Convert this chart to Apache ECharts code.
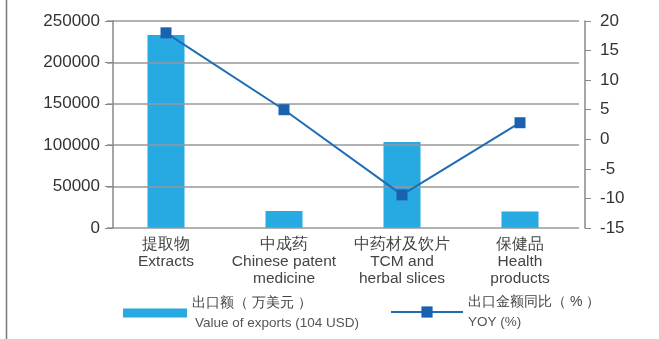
<!DOCTYPE html>
<html><head><meta charset="utf-8">
<script src="https://cdn.jsdelivr.net/npm/echarts@6/dist/echarts.min.js"></script>
<style>html,body{margin:0;padding:0;background:#fff}#c{width:659px;height:339px}</style>
</head><body><div id="c"></div>
<script>
const categoriesZh = ['提取物', '中成药', '中药材及饮片', '保健品'];
const categoriesEn = ['Extracts', 'Chinese patent\nmedicine', 'TCM and\nherbal slices', 'Health\nproducts'];
const exportValues = [233000, 20500, 104000, 20000];
const yoyValues = [18, 5, -9.4, 2.8];
const leftTicks = [0, 50000, 100000, 150000, 200000, 250000];
const rightTicks = [-15, -10, -5, 0, 5, 10, 15, 20];

const chart = echarts.init(document.getElementById('c'));
const font = 'Liberation Sans, Arial, sans-serif';
const richA = {fontSize: 14, color: '#444', fontFamily: font, lineHeight: 20};
const richB = {fontSize: 13.5, color: '#555', fontFamily: font, lineHeight: 20};
chart.setOption({
  animation: false,
  textStyle: {fontFamily: font},
  grid: {left: 107, right: 80, top: 21, bottom: 111},
  graphic: [{type: 'line', shape: {x1: 6.5, y1: 0, x2: 6.5, y2: 339}, style: {stroke: '#777', lineWidth: 1.5}}],
  legend: [
    {data: [{name: '出口额（万美元）', icon: 'rect'}], left: 118, top: 291, itemWidth: 64, itemHeight: 9, itemGap: 10,
     textStyle: {rich: {a: richA, b: Object.assign({padding: [0, 0, 0, 3]}, richB)}},
     formatter: () => '{a|出口额（ 万美元 ）}\n{b|Value of exports (104 USD)}'},
    {data: ['出口金额同比（%）'], left: 385, top: 290, itemWidth: 72, itemHeight: 14, itemGap: 13,
     textStyle: {rich: {a: richA, b: richB}},
     formatter: () => '{a|出口金额同比（ % ）}\n{b|YOY (%)}'}
  ],
  xAxis: {
    type: 'category', data: categoriesZh.map((z, i) => z + '\n' + categoriesEn[i]),
    axisLine: {show: false}, axisTick: {show: false},
    axisLabel: {interval: 0, margin: 8, fontSize: 15.5, color: '#444', lineHeight: 17, fontFamily: font}
  },
  yAxis: [
    {type: 'value', min: 0, max: 250000, interval: 50000, offset: -6, z: 3,
     axisLine: {show: true, lineStyle: {color: '#888', width: 1.5}},
     axisTick: {show: true, length: 8, lineStyle: {color: '#888'}},
     axisLabel: {fontSize: 17, color: '#333', margin: 13, fontFamily: font, formatter: v => String(v)},
     splitLine: {show: true, lineStyle: {color: '#999', width: 1.5}}},
    {type: 'value', min: -15, max: 20, interval: 5, offset: 6, position: 'right',
     axisLine: {show: true, lineStyle: {color: '#888', width: 1.5}},
     axisTick: {show: true, length: 6, lineStyle: {color: '#888'}},
     axisLabel: {fontSize: 17, color: '#333', margin: 15, fontFamily: font},
     splitLine: {show: false}}
  ],
  series: [
    {name: '出口额（万美元）', type: 'bar', data: exportValues, barWidth: 37, z: 2,
     itemStyle: {color: '#27a9e1'}},
    {name: '出口金额同比（%）', type: 'line', yAxisIndex: 1, data: yoyValues, z: 10,
     symbol: 'rect', symbolSize: 11, lineStyle: {color: '#1f6cb5', width: 2},
     itemStyle: {color: '#1a62b0'}}
  ]
});
</script></body></html>
